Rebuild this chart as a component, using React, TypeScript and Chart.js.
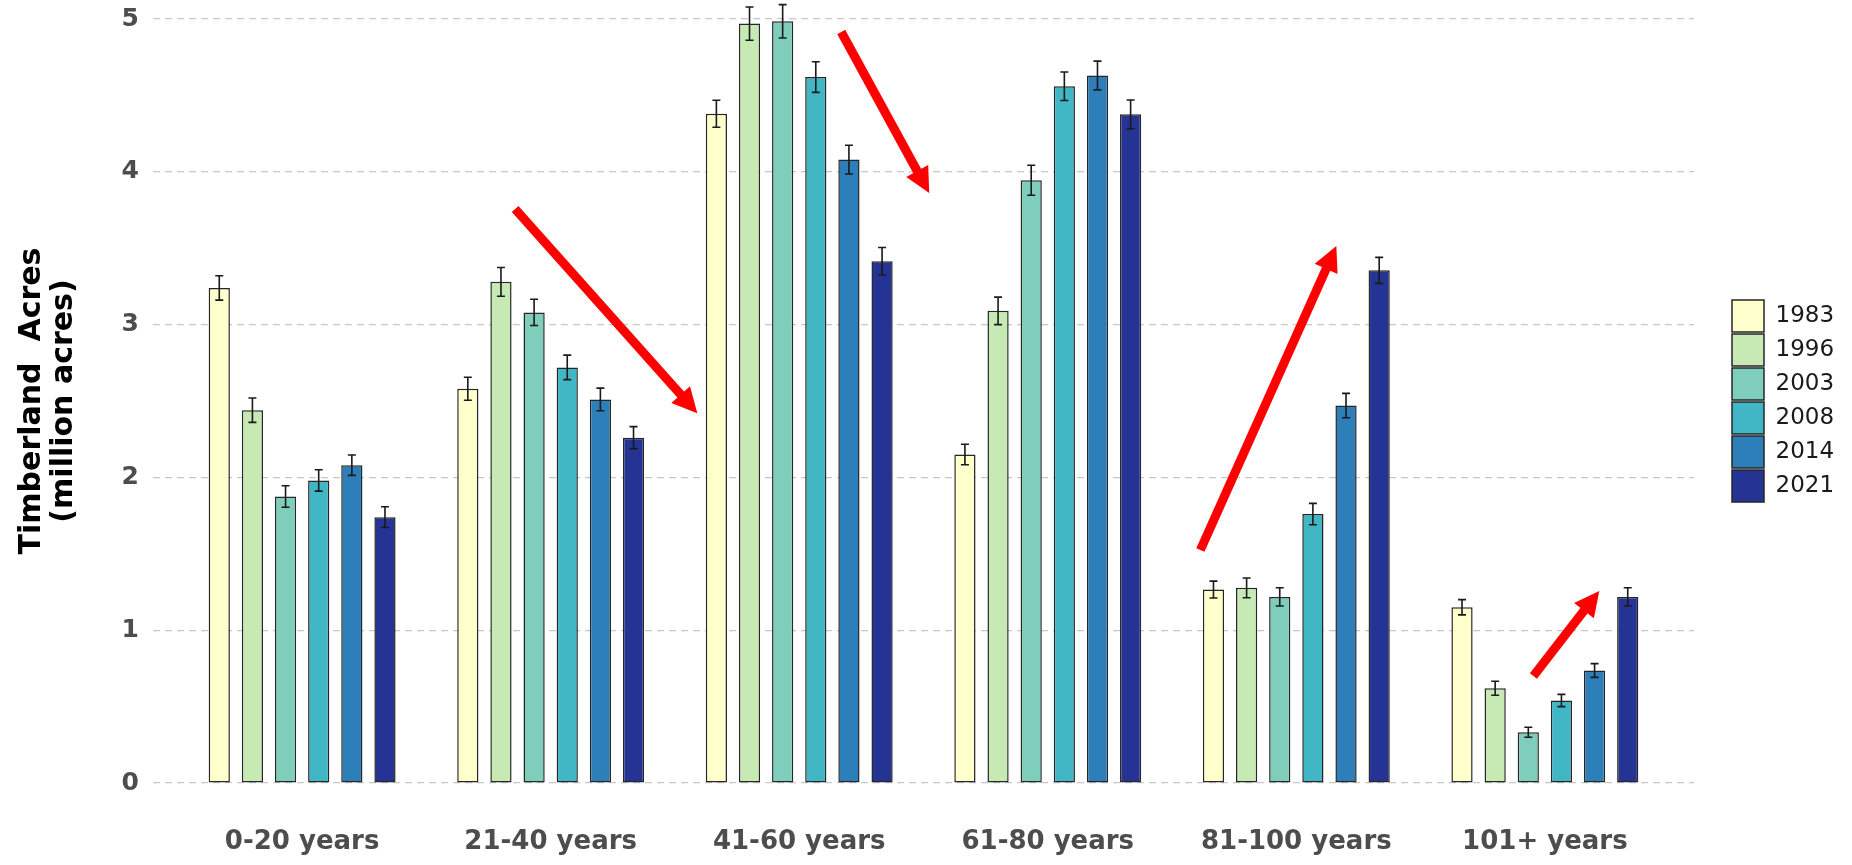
import React, { useEffect, useRef } from 'react';
import { Chart, registerables } from 'chart.js';

Chart.register(...registerables);

const CATEGORIES = ['0-20 years', '21-40 years', '41-60 years', '61-80 years', '81-100 years', '101+ years'];
const YEARS = ['1983', '1996', '2003', '2008', '2014', '2021'];
const COLORS = ['#FFFFCC', '#C7E9B4', '#7FCDBB', '#41B6C4', '#2C7FB8', '#253494'];

// Timberland acres (million acres) per age class, one array per survey year
const V1983 = [3.24, 2.58, 4.38, 2.15, 1.266, 1.15];
const V1996 = [2.44, 3.28, 4.97, 3.09, 1.277, 0.62];
const V2003 = [1.875, 3.08, 4.985, 3.945, 1.218, 0.332];
const V2008 = [1.98, 2.72, 4.62, 4.56, 1.76, 0.54];
const V2014 = [2.08, 2.51, 4.08, 4.63, 2.47, 0.736];
const V2021 = [1.74, 2.26, 3.415, 4.376, 3.355, 1.218];

// Half-widths of the error bars
const E1983 = [0.08, 0.075, 0.088, 0.067, 0.055, 0.05];
const E1996 = [0.08, 0.094, 0.109, 0.09, 0.065, 0.046];
const E2003 = [0.07, 0.086, 0.109, 0.098, 0.06, 0.033];
const E2008 = [0.07, 0.08, 0.1, 0.093, 0.07, 0.04];
const E2014 = [0.067, 0.074, 0.094, 0.094, 0.08, 0.045];
const E2021 = [0.068, 0.072, 0.09, 0.094, 0.085, 0.06];

const VALUES = [V1983, V1996, V2003, V2008, V2014, V2021];
const ERRORS = [E1983, E1996, E2003, E2008, E2014, E2021];

const Y_TICKS = [0, 1, 2, 3, 4, 5];
const Y_TITLE = ['Timberland  Acres', '(million acres)'];

// Red trend arrows in data space: [category position, value]
const ARROWS = [
  { from: [0.857, 3.757], to: [1.59, 2.42] },
  { from: [2.169, 4.915], to: [2.523, 3.861] },
  { from: [3.614, 1.525], to: [4.161, 3.514] },
  { from: [4.954, 0.7], to: [5.219, 1.257] },
];

const FONT = "'DejaVu Sans', sans-serif";

const errorBarPlugin = {
  id: 'errorBars',
  afterDatasetsDraw(chart: any) {
    const { ctx } = chart;
    const yScale = chart.scales.y;
    ctx.save();
    ctx.strokeStyle = '#1a1a1a';
    ctx.lineWidth = 1.6;
    chart.data.datasets.forEach((_ds: any, d: number) => {
      const meta = chart.getDatasetMeta(d);
      meta.data.forEach((bar: any, i: number) => {
        const v = VALUES[d][i];
        const e = ERRORS[d][i];
        const x = bar.x;
        const top = yScale.getPixelForValue(v + e);
        const bot = yScale.getPixelForValue(v - e);
        const cap = 4;
        ctx.beginPath();
        ctx.moveTo(x, top);
        ctx.lineTo(x, bot);
        ctx.moveTo(x - cap, top);
        ctx.lineTo(x + cap, top);
        ctx.moveTo(x - cap, bot);
        ctx.lineTo(x + cap, bot);
        ctx.stroke();
      });
    });
    ctx.restore();
  },
};

const arrowPlugin = {
  id: 'trendArrows',
  afterDraw(chart: any) {
    const { ctx } = chart;
    const xs = chart.scales.x;
    const ys = chart.scales.y;
    ctx.save();
    ctx.strokeStyle = '#ff0000';
    ctx.fillStyle = '#ff0000';
    ctx.lineWidth = 9;
    ctx.lineCap = 'butt';
    ARROWS.forEach((a) => {
      const x0 = xs.getPixelForValue(a.from[0]);
      const y0 = ys.getPixelForValue(a.from[1]);
      const x1 = xs.getPixelForValue(a.to[0]);
      const y1 = ys.getPixelForValue(a.to[1]);
      const len = Math.hypot(x1 - x0, y1 - y0);
      const ux = (x1 - x0) / len;
      const uy = (y1 - y0) / len;
      const headLen = 25;
      const headHalf = 12.5;
      const bx = x1 - ux * headLen;
      const by = y1 - uy * headLen;
      ctx.beginPath();
      ctx.moveTo(x0, y0);
      ctx.lineTo(bx + ux * 3, by + uy * 3);
      ctx.stroke();
      ctx.beginPath();
      ctx.moveTo(x1, y1);
      ctx.lineTo(bx - uy * headHalf, by + ux * headHalf);
      ctx.lineTo(bx + uy * headHalf, by - ux * headHalf);
      ctx.closePath();
      ctx.fill();
    });
    ctx.restore();
  },
};

export default function App() {
  const canvasRef = useRef<HTMLCanvasElement | null>(null);

  useEffect(() => {
    document.body.style.margin = '0';
    const canvas = canvasRef.current;
    if (!canvas) return;

    const datasets = YEARS.map((year, d) => ({
      label: year,
      data: VALUES[d].map((v, i) => ({ x: i, y: v })),
      backgroundColor: COLORS[d],
      borderColor: '#262626',
      borderWidth: 1.5,
      borderSkipped: false,
      categoryPercentage: 0.8,
      barPercentage: 0.64,
    }));

    const chart = new Chart(canvas, {
      type: 'bar',
      data: { datasets },
      plugins: [errorBarPlugin, arrowPlugin],
      options: {
        animation: false,
        responsive: false,
        devicePixelRatio: 1,
        layout: { padding: { top: 19, right: 12, left: 0, bottom: 0 } },
        plugins: {
          tooltip: { enabled: false },
          legend: {
            position: 'right',
            fullSize: false,
            maxWidth: 110,
            labels: {
              boxWidth: 32,
              boxHeight: 32,
              padding: 2,
              color: '#1a1a1a',
              font: { family: FONT, size: 23, weight: 'normal' },
            },
          },
        },
        scales: {
          x: {
            type: 'linear',
            offset: false,
            min: -0.6,
            max: 5.6,
            grid: { display: false, drawTicks: false, offset: false },
            border: { display: false },
            afterBuildTicks: (scale: any) => {
              scale.ticks = CATEGORIES.map((_c, i) => ({ value: i }));
            },
            afterFit: (scale: any) => {
              scale.height = 82;
            },
            ticks: {
              autoSkip: false,
              maxRotation: 0,
              minRotation: 0,
              padding: 44,
              color: '#4d4d4d',
              font: { family: FONT, size: 26, weight: 'bold' },
              callback: (value: any) => CATEGORIES[Math.round(Number(value))] ?? '',
            },
          },
          y: {
            type: 'linear',
            position: 'left',
            min: 0,
            max: 5,
            afterBuildTicks: (scale: any) => {
              scale.ticks = Y_TICKS.map((v) => ({ value: v }));
            },
            afterFit: (scale: any) => {
              scale.width = 153;
              scale.paddingTop = 0;
              scale.paddingBottom = 0;
            },
            grid: {
              color: '#c8c8c8',
              lineWidth: 1.2,
              drawTicks: false,
            },
            border: { display: false, dash: [7, 5] },
            ticks: {
              padding: 14,
              color: '#4d4d4d',
              font: { family: FONT, size: 25, weight: 'bold' },
              callback: (value: any) => String(value),
            },
            title: {
              display: true,
              text: Y_TITLE,
              color: '#000000',
              font: { family: FONT, size: 30, weight: 'bold', lineHeight: 1.07 },
              padding: { top: 16, bottom: 0 },
            },
          },
          gap: {
            type: 'linear',
            position: 'right',
            display: true,
            grid: { display: false, drawTicks: false },
            border: { display: false },
            ticks: { display: false },
            afterFit: (scale: any) => {
              scale.width = 36;
              scale.paddingTop = 0;
              scale.paddingBottom = 0;
            },
          },
        },
      },
    } as any);

    return () => {
      chart.destroy();
    };
  }, []);

  return (
    <div style={{ width: 1852, height: 865, background: '#ffffff' }}>
      <canvas ref={canvasRef} width={1852} height={865} />
    </div>
  );
}
